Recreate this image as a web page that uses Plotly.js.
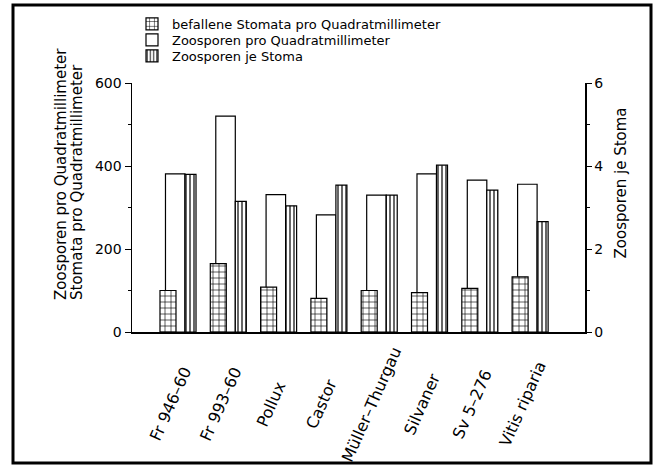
<!DOCTYPE html>
<html>
<head>
<meta charset="utf-8">
<script src="https://cdn.plot.ly/plotly-3.0.1.min.js"></script>
<style>html,body{margin:0;padding:0;background:#fff;}#chart{width:655px;height:466px;}</style>
</head>
<body>
<div id="chart"></div>
<script>
const categories = ["Fr 946–60", "Fr 993–60", "Pollux", "Castor", "Müller–Thurgau", "Silvaner", "Sv 5–276", "Vitis riparia"];
const stomataProMm2 = [100, 165, 108, 81, 100, 95, 105, 133];
const zoosporenProMm2 = [381, 520, 331, 282, 330, 381, 366, 356];
const zoosporenJeStoma = [3.80, 3.15, 3.04, 3.54, 3.30, 4.02, 3.42, 2.66];
const seriesNames = ["befallene Stomata pro Quadratmillimeter", "Zoosporen pro Quadratmillimeter", "Zoosporen je Stoma"];
const leftTicks = [0, 200, 400, 600];
const rightTicks = [0, 2, 4, 6];

const F = "DejaVu Sans, sans-serif";
const lineStyle = {color: "#000", width: 1.2};

const traces = [
  {
    type: "bar", name: seriesNames[1], x: categories, y: zoosporenProMm2,
    offset: -0.249, width: 0.388, legend: "legend2",
    marker: {color: "#fff", line: lineStyle}
  },
  {
    type: "bar", name: seriesNames[2], x: categories, y: zoosporenJeStoma, yaxis: "y2",
    offset: 0.139, width: 0.219, legend: "legend3",
    marker: {color: "#fff", line: lineStyle,
      pattern: {shape: "|", fgcolor: "#000", bgcolor: "#fff", size: 4, solidity: 0.3}}
  },
  {
    type: "bar", name: seriesNames[0], x: categories, y: stomataProMm2,
    offset: -0.358, width: 0.318, legend: "legend",
    marker: {color: "#fff", line: lineStyle,
      pattern: {shape: "+", fgcolor: "#000", bgcolor: "#fff", size: 6, solidity: 0.2}}
  }
];

function legendAt(yPx) {
  return {x: 0, xanchor: "left", y: (332 - yPx) / 249, yanchor: "middle",
          font: {family: F, size: 13}, bgcolor: "rgba(0,0,0,0)"};
}

// category labels, centred below each group (rotated)
const catLabels = categories.map(c => ({
  text: c, xref: "x", yref: "paper", x: c, y: (332 - 404) / 249, xshift: -8,
  xanchor: "center", yanchor: "middle", textangle: -66, showarrow: false,
  font: {family: F, size: 16}
}));

const layout = {
  width: 655, height: 466,
  margin: {l: 132, r: 70, t: 83, b: 134, autoexpand: false},
  paper_bgcolor: "#fff", plot_bgcolor: "#fff",
  font: {family: F, color: "#000", size: 14},
  barmode: "overlay",
  showlegend: true,
  legend: legendAt(24),
  legend2: legendAt(40),
  legend3: legendAt(56),
  xaxis: {
    type: "category", range: [-0.9145, 8.091], showline: true, linecolor: "#000", linewidth: 1.5,
    ticks: "", showticklabels: false, showgrid: false, zeroline: false
  },
  yaxis: {
    range: [0, 600], tickvals: leftTicks, ticks: "outside", ticklen: 6, tickcolor: "#000",
    showline: true, linecolor: "#000", linewidth: 1.5, showgrid: false, zeroline: false,
    tickfont: {family: F, size: 14},
    minor: {dtick: 100, ticks: "outside", ticklen: 3, tickcolor: "#000"}
  },
  yaxis2: {
    overlaying: "y", side: "right", range: [0, 6], tickvals: rightTicks, ticks: "outside", ticklen: 5,
    tickcolor: "#000", showline: true, linecolor: "#000", linewidth: 1.5, showgrid: false, zeroline: false,
    tickfont: {family: F, size: 14},
    minor: {dtick: 1, ticks: "outside", ticklen: 3, tickcolor: "#000"}
  },
  annotations: [
    {text: "Zoosporen pro Quadratmillimeter", xref: "paper", yref: "paper", x: (61 - 132) / 453, y: (332 - 302) / 249,
     xanchor: "center", yanchor: "bottom", textangle: -90, showarrow: false, font: {family: F, size: 15}},
    {text: "Stomata pro Quadratmillimeter", xref: "paper", yref: "paper", x: (77 - 132) / 453, y: (332 - 302) / 249,
     xanchor: "center", yanchor: "bottom", textangle: -90, showarrow: false, font: {family: F, size: 15}},
    {text: "Zoosporen je Stoma", xref: "paper", yref: "paper", x: (620 - 132) / 453, y: (332 - 183.5) / 249,
     xanchor: "center", yanchor: "middle", textangle: -90, showarrow: false, font: {family: F, size: 15}}
  ].concat(catLabels),
  shapes: [
    {type: "rect", xref: "paper", yref: "paper", x0: (13 - 132) / 453, x1: (651 - 132) / 453,
     y0: (332 - 463) / 249, y1: (332 - 5) / 249, line: {color: "#000", width: 3}}
  ]
};

Plotly.newPlot("chart", traces, layout, {displayModeBar: false, staticPlot: true});
</script>
</body>
</html>
